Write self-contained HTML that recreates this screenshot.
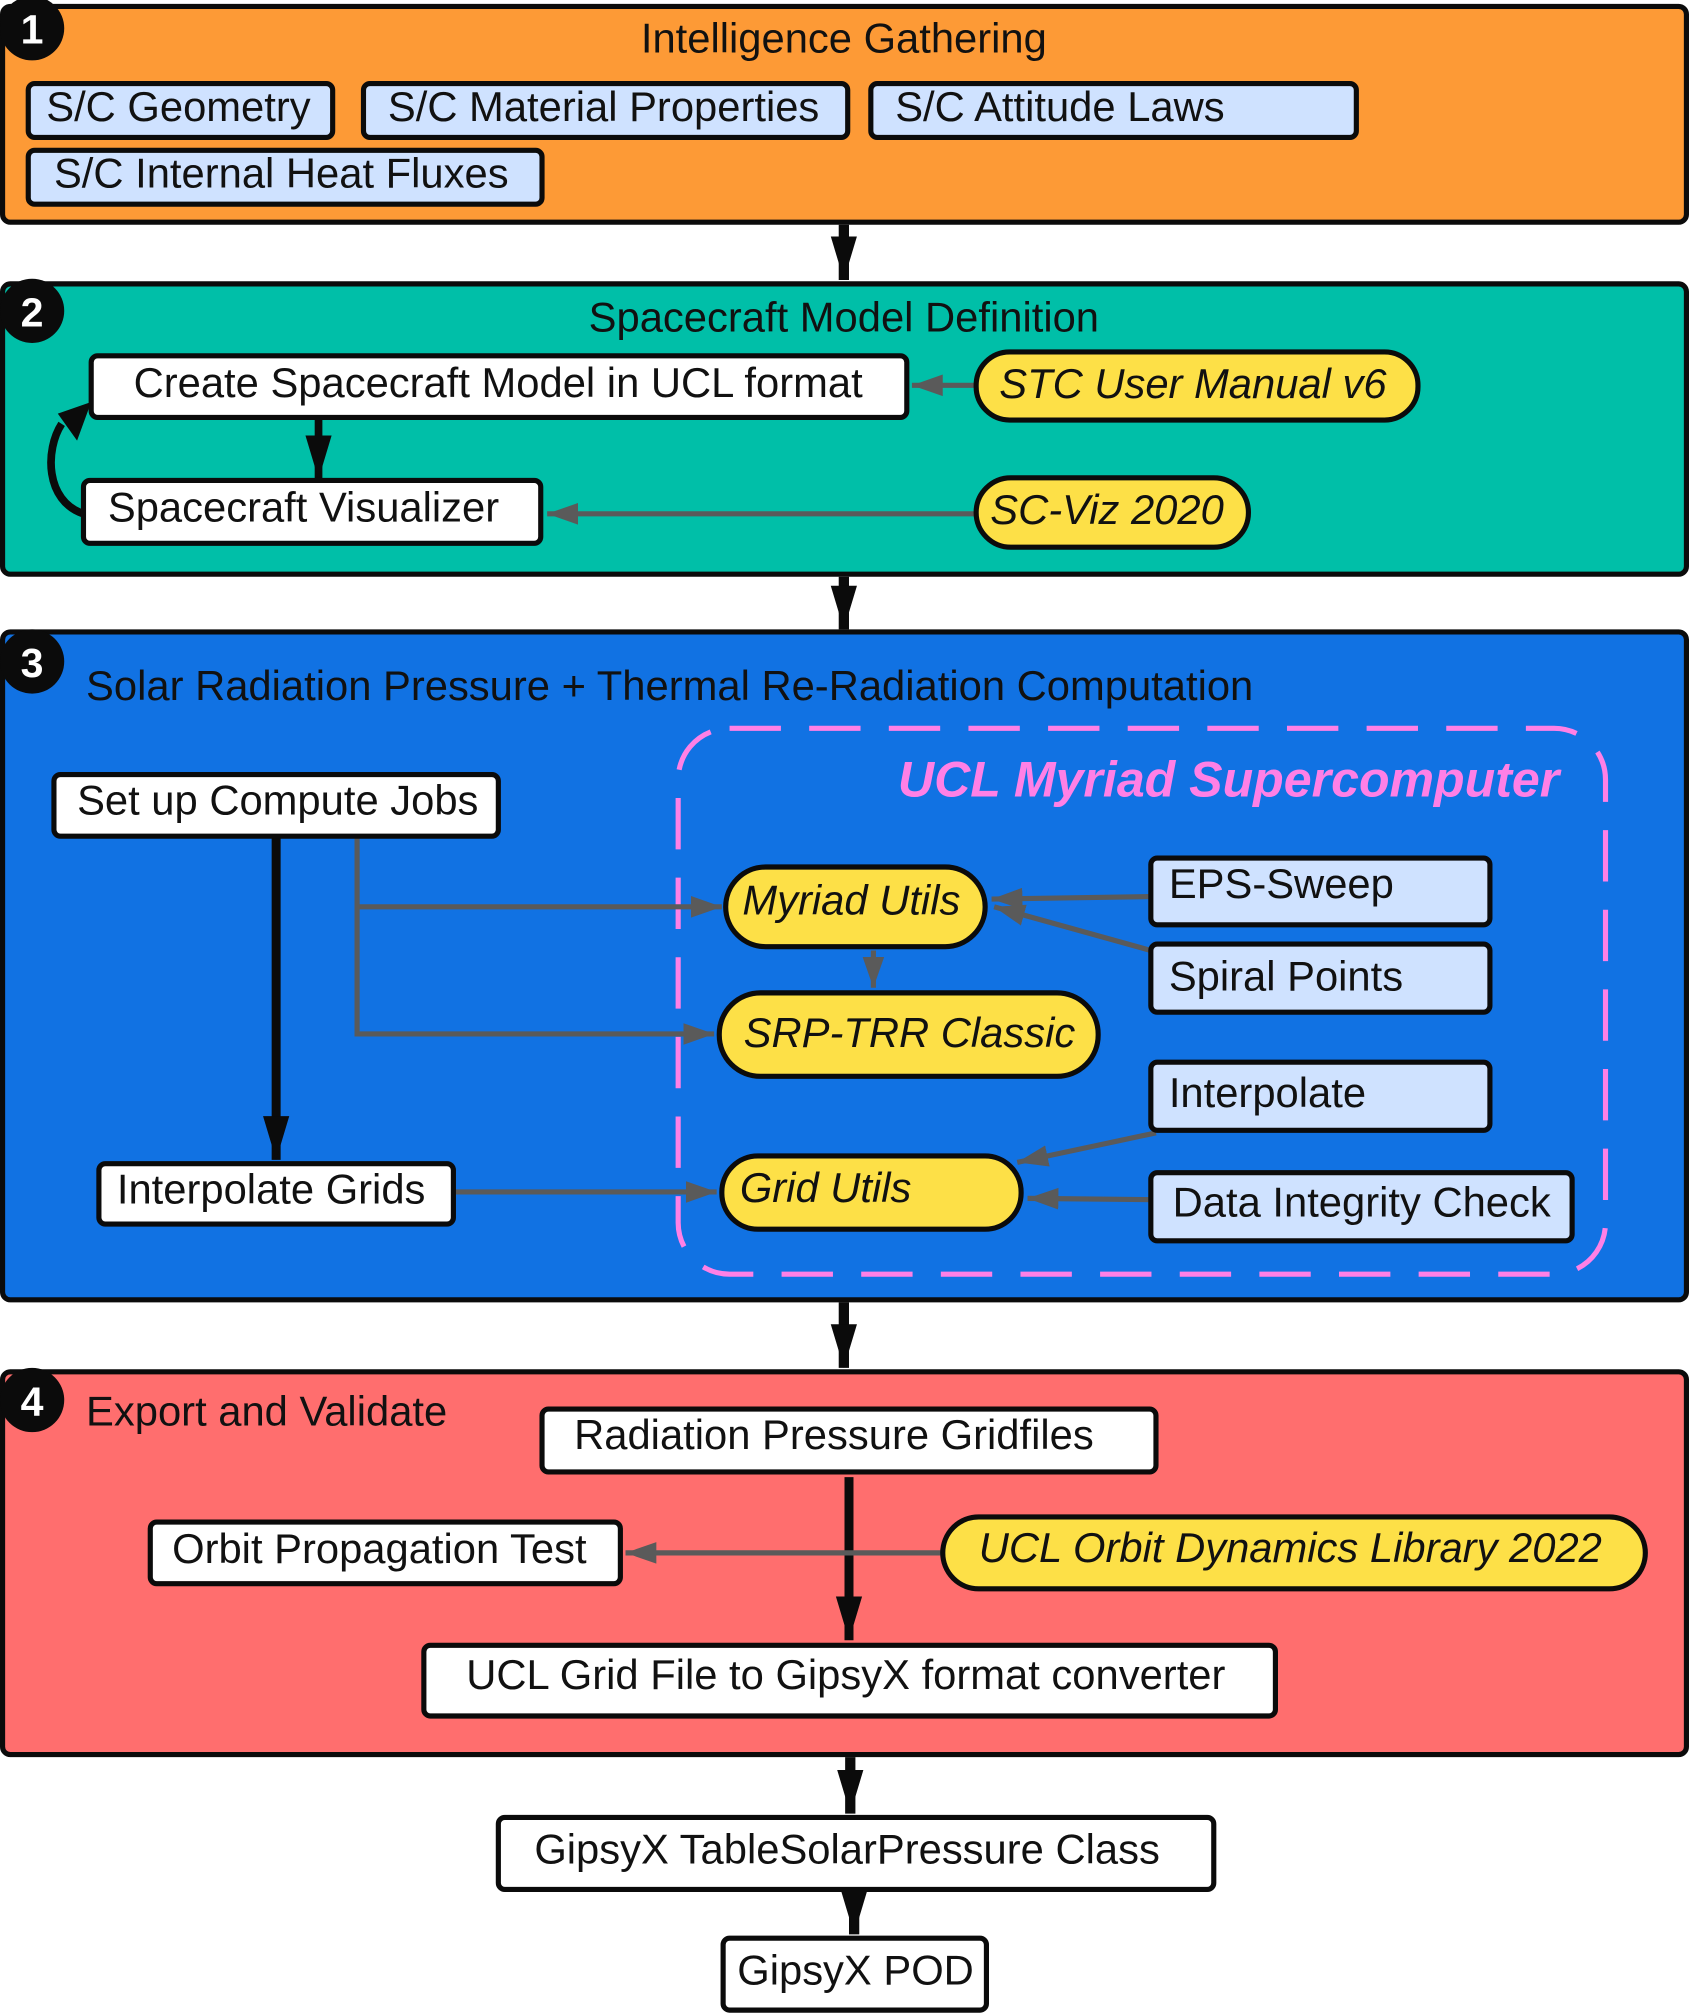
<!DOCTYPE html>
<html><head><meta charset="utf-8"><style>
html,body{margin:0;padding:0;background:#fff;}
svg{display:block;}
text{font-family:"Liberation Sans",sans-serif;fill:#111;}
</style></head><body>
<svg width="1689" height="2014" viewBox="0 0 1315 1568" xmlns="http://www.w3.org/2000/svg">
<defs>
<marker id="abig" viewBox="0 0 10 10" refX="10" refY="5" markerWidth="34" markerHeight="34" orient="auto" markerUnits="userSpaceOnUse"><path d="M0,2 L10,5 L0,8 z" fill="#0b0b0b"/></marker>
<marker id="ag" viewBox="0 0 10 10" refX="10" refY="5" markerWidth="24" markerHeight="24" orient="auto" markerUnits="userSpaceOnUse"><path d="M0,1.5 L10,5 L0,8.5 z" fill="#5a5a5a"/></marker>
</defs>
<g stroke="#0b0b0b" stroke-width="4">
<rect x="2" y="5" width="1311" height="168" rx="6" fill="#fd9a36"/>
<rect x="2" y="221" width="1311" height="226" rx="6" fill="#00bfa8"/>
<rect x="2" y="492" width="1311" height="520" rx="6" fill="#1172e3"/>
<rect x="2" y="1068" width="1311" height="298" rx="6" fill="#ff6e6e"/>
</g>
<g fill="#0b0b0b"><circle cx="25" cy="22" r="25"/><circle cx="25" cy="242" r="25"/><circle cx="25" cy="515" r="25"/><circle cx="25" cy="1090" r="25"/></g>
<g font-size="32" font-weight="bold" text-anchor="middle">
<text x="25" y="34" style="fill:#fff">1</text><text x="25" y="254" style="fill:#fff">2</text><text x="25" y="527" style="fill:#fff">3</text><text x="25" y="1102" style="fill:#fff">4</text>
</g>
<g font-size="32.5">
<text x="657" y="41" text-anchor="middle">Intelligence Gathering</text>
<text x="657" y="258" text-anchor="middle">Spacecraft Model Definition</text>
<text x="67" y="545">Solar Radiation Pressure + Thermal Re-Radiation Computation</text>
<text x="67" y="1110">Export and Validate</text>
</g>
<g stroke="#0b0b0b" stroke-width="4" fill="#cfe2ff">
<rect x="22" y="65" width="237" height="42" rx="5"/>
<rect x="283" y="65" width="377" height="42" rx="5"/>
<rect x="678" y="65" width="378" height="42" rx="5"/>
<rect x="22" y="117" width="400" height="42" rx="5"/>
</g>
<g font-size="32.5">
<text x="36" y="94">S/C Geometry</text>
<text x="302" y="94">S/C Material Properties</text>
<text x="697" y="94">S/C Attitude Laws</text>
<text x="42" y="146">S/C Internal Heat Fluxes</text>
</g>
<g stroke="#0b0b0b" stroke-width="8">
<line x1="657" y1="175" x2="657" y2="218" marker-end="url(#abig)"/>
<line x1="657" y1="449" x2="657" y2="490" marker-end="url(#abig)"/>
<line x1="657" y1="1014" x2="657" y2="1065" marker-end="url(#abig)"/>
<line x1="662" y1="1368" x2="662" y2="1412" marker-end="url(#abig)"/>
<line x1="665" y1="1473" x2="665" y2="1506" marker-end="url(#abig)"/>
</g>
<g stroke="#5a5a5a" stroke-width="4" fill="none">
<line x1="760" y1="300" x2="710" y2="300" marker-end="url(#ag)"/>
<line x1="760" y1="400" x2="426" y2="400" marker-end="url(#ag)"/>
</g>
<g stroke="#0b0b0b" stroke-width="6" fill="none">
<line x1="248" y1="326" x2="248" y2="373" marker-end="url(#abig)"/>
<path d="M65,400 C35,390 35,350 48,330" />
</g>
<path d="M45,322 L71,313 L60,343 z" fill="#0b0b0b"/>
<g stroke="#0b0b0b" stroke-width="4">
<rect x="71" y="277" width="635" height="48" rx="5" fill="#fff"/>
<rect x="65" y="374" width="356" height="49" rx="5" fill="#fff"/>
<rect x="760" y="274" width="344" height="53" rx="26" fill="#fde047"/>
<rect x="760" y="372" width="212" height="54" rx="27" fill="#fde047"/>
</g>
<g font-size="32.5">
<text x="104" y="309">Create Spacecraft Model in UCL format</text>
<text x="84" y="406">Spacecraft Visualizer</text>
<text x="778" y="310" font-style="italic">STC User Manual v6</text>
<text x="771" y="408" font-style="italic">SC-Viz 2020</text>
</g>
<rect x="528" y="567" width="722" height="425" rx="40" fill="none" stroke="#ff80e6" stroke-width="4" stroke-dasharray="40,22"/>
<text x="1214" y="620" text-anchor="end" font-size="39" font-weight="bold" font-style="italic" style="fill:#ff80e6">UCL Myriad Supercomputer</text>
<g stroke="#5a5a5a" stroke-width="4" fill="none">
<path d="M278,652 L278,805 L556,805" marker-end="url(#ag)"/>
<path d="M278,706 L562,706" marker-end="url(#ag)"/>
<line x1="680" y1="740" x2="680" y2="769" marker-end="url(#ag)"/>
<path d="M896,698 L772,700" marker-end="url(#ag)"/>
<path d="M896,740 L774,706" marker-end="url(#ag)"/>
<path d="M900,882 L792,905" marker-end="url(#ag)"/>
<path d="M896,934 L800,933" marker-end="url(#ag)"/>
<line x1="354" y1="928" x2="558" y2="928" marker-end="url(#ag)"/>
</g>
<line x1="215" y1="652" x2="215" y2="903" stroke="#0b0b0b" stroke-width="7" marker-end="url(#abig)"/>
<g stroke="#0b0b0b" stroke-width="4">
<rect x="42" y="603" width="346" height="48" rx="5" fill="#fff"/>
<rect x="77" y="906" width="276" height="47" rx="5" fill="#fff"/>
<rect x="565" y="675" width="202" height="62" rx="31" fill="#fde047"/>
<rect x="560" y="773" width="295" height="65" rx="32" fill="#fde047"/>
<rect x="562" y="900" width="233" height="57" rx="28" fill="#fde047"/>
<rect x="896" y="668" width="264" height="52" rx="5" fill="#cfe2ff"/>
<rect x="896" y="735" width="264" height="53" rx="5" fill="#cfe2ff"/>
<rect x="896" y="827" width="264" height="53" rx="5" fill="#cfe2ff"/>
<rect x="896" y="913" width="328" height="53" rx="5" fill="#cfe2ff"/>
</g>
<g font-size="32.5">
<text x="60" y="634">Set up Compute Jobs</text>
<text x="91" y="937">Interpolate Grids</text>
<text x="578" y="712" font-style="italic">Myriad Utils</text>
<text x="579" y="815" font-style="italic">SRP-TRR Classic</text>
<text x="576" y="936" font-style="italic">Grid Utils</text>
<text x="910" y="699">EPS-Sweep</text>
<text x="910" y="771">Spiral Points</text>
<text x="910" y="862">Interpolate</text>
<text x="913" y="947">Data Integrity Check</text>
</g>
<line x1="661" y1="1150" x2="661" y2="1277" stroke="#0b0b0b" stroke-width="7" marker-end="url(#abig)"/>
<line x1="734" y1="1209" x2="487" y2="1209" stroke="#5a5a5a" stroke-width="4" marker-end="url(#ag)"/>
<g stroke="#0b0b0b" stroke-width="4">
<rect x="422" y="1097" width="478" height="49" rx="5" fill="#fff"/>
<rect x="117" y="1185" width="366" height="48" rx="5" fill="#fff"/>
<rect x="734" y="1181" width="547" height="56" rx="28" fill="#fde047"/>
<rect x="330" y="1281" width="663" height="55" rx="5" fill="#fff"/>
<rect x="388" y="1415" width="557" height="56" rx="5" fill="#fff"/>
<rect x="563" y="1509" width="205" height="56" rx="5" fill="#fff"/>
</g>
<g font-size="32.5">
<text x="447" y="1128">Radiation Pressure Gridfiles</text>
<text x="134" y="1217">Orbit Propagation Test</text>
<text x="762" y="1216" font-style="italic">UCL Orbit Dynamics Library 2022</text>
<text x="363" y="1315">UCL Grid File to GipsyX format converter</text>
<text x="416" y="1451">GipsyX TableSolarPressure Class</text>
<text x="574" y="1545">GipsyX POD</text>
</g>
</svg>
</body></html>
